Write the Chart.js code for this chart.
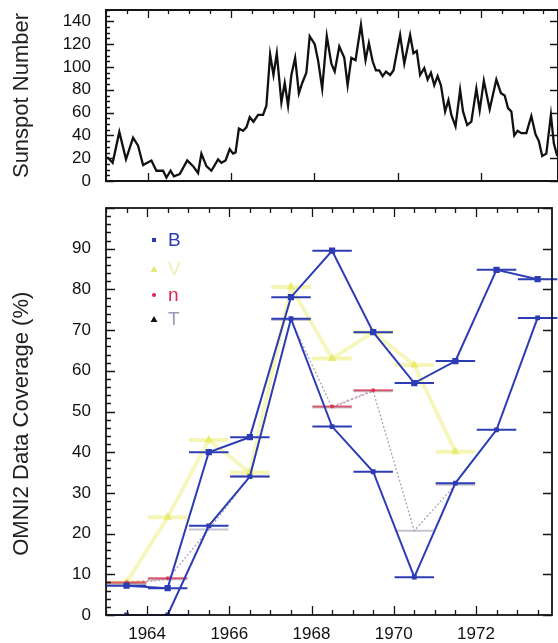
<!DOCTYPE html>
<html lang="en">
<head>
<meta charset="UTF-8" />
<title>Sunspot Number and OMNI2 Data Coverage</title>
<script src="https://cdn.jsdelivr.net/npm/chart.js"></script>
<style>
  html, body { margin: 0; padding: 0; background: #fff; overflow: hidden; }
  #wrap { position: relative; width: 558px; height: 643px; }
  canvas { position: absolute; left: 0; }
  #sunspotChart { top: 0; }
  #coverageChart { top: 200px; }
</style>
</head>
<body>
<div id="wrap">
  <canvas id="sunspotChart" width="558" height="200"></canvas>
  <canvas id="coverageChart" width="558" height="443"></canvas>
</div>
<script>
// ---- top panel: sunspot number ----
const sunspotYears = [
  1963.03, 1963.16, 1963.32, 1963.48, 1963.65, 1963.77, 1963.89, 1964.09, 1964.21, 1964.37, 1964.45, 1964.55,
  1964.63, 1964.77, 1964.95, 1965.09, 1965.21, 1965.29, 1965.41, 1965.53, 1965.69, 1965.77, 1965.87, 1965.97,
  1966.05, 1966.11, 1966.19, 1966.29, 1966.37, 1966.45, 1966.54, 1966.65, 1966.77, 1966.85, 1966.94, 1967.02,
  1967.10, 1967.21, 1967.29, 1967.37, 1967.45, 1967.54, 1967.63, 1967.71, 1967.81, 1967.89, 1968.01, 1968.09,
  1968.19, 1968.30, 1968.41, 1968.49, 1968.60, 1968.72, 1968.80, 1968.89, 1968.99, 1969.12, 1969.23, 1969.31,
  1969.40, 1969.48, 1969.56, 1969.64, 1969.72, 1969.82, 1969.90, 1970.06, 1970.16, 1970.30, 1970.38, 1970.46,
  1970.54, 1970.64, 1970.72, 1970.80, 1970.88, 1970.96, 1971.04, 1971.14, 1971.22, 1971.29, 1971.39, 1971.50,
  1971.57, 1971.67, 1971.77, 1971.89, 1971.97, 1972.07, 1972.21, 1972.37, 1972.48, 1972.57, 1972.65, 1972.73,
  1972.80, 1972.88, 1972.97, 1973.09, 1973.21, 1973.31, 1973.39, 1973.47, 1973.57, 1973.68, 1973.75, 1973.83
];
const sunspotValues = [
  21, 16, 43, 19, 38, 31, 14, 18, 9, 9, 3, 9,
  4, 6, 18, 13, 7, 24, 13, 9, 19, 16, 18, 28,
  24, 25, 46, 44, 47, 56, 52, 58, 58, 66, 111, 93,
  112, 69, 86, 66, 93, 108, 77, 86, 95, 127, 120, 106,
  81, 127, 103, 96, 118, 108, 84, 108, 106, 137, 106, 121,
  105, 97, 97, 92, 96, 93, 97, 128, 103, 128, 112, 114,
  93, 99, 89, 95, 84, 92, 84, 61, 71, 58, 48, 80,
  61, 49, 52, 81, 62, 88, 63, 89, 77, 75, 64, 61,
  40, 44, 42, 42, 57, 41, 35, 22, 24, 58, 33, 22
];

// ---- bottom panel: OMNI2 yearly data coverage (%) ----
const coverageYears = [1963.5, 1964.5, 1965.5, 1966.5, 1967.5, 1968.5, 1969.5, 1970.5, 1971.5, 1972.5, 1973.5];
const coverageB     = [7.2, 6.6, 40.0, 43.7, 78.1, 89.5, 69.5, 57.0, 62.4, 84.8, 82.5];
const coverageB2    = [0, 0, 21.9, 34.0, 72.8, 46.3, 35.2, 9.3, 32.4, 45.5, 73.0];
const coverageV     = [8, 24, 43, 35, 80.6, 63, 69.5, 61.4, 40.1, null, null];
const coverageN     = [8.0, 9.0, null, null, null, 51.2, 55.2, null, null, null, null];
const coverageT     = [7.6, 8.8, 21, 34, 72.5, 51.0, 55.0, 20.7, 32.0, null, null];

const yearLabels = [1964, 1966, 1968, 1970, 1972];
const sunspotTicks = [0, 20, 40, 60, 80, 100, 120, 140];
const coverageTicks = [0, 10, 20, 30, 40, 50, 60, 70, 80, 90];

const X_MIN = 1963, X_MAX = 1973.85;
const barHalf = 0.48;
const FONT = '"Liberation Sans", Arial, Helvetica, sans-serif';
const BLUE = '#2c3cb4';

// inward tick marks and the box round the plot
const frameTicks = {
  id: 'frameTicks',
  afterDraw(chart, args, o) {
    const { ctx, chartArea: a, scales: { x, y } } = chart;
    ctx.save();
    ctx.strokeStyle = '#151515';
    ctx.lineWidth = o.lineWidth;
    ctx.strokeRect(a.left, a.top, a.right - a.left, a.bottom - a.top);
    ctx.lineWidth = 1.3;
    ctx.beginPath();
    // y ticks
    for (let v = y.min; v <= y.max + 1e-6; v += o.yMinor) {
      const py = Math.round(y.getPixelForValue(v)) + 0.5;
      const major = Math.abs(v / o.yMajor - Math.round(v / o.yMajor)) < 1e-6;
      const len = major ? o.majorLen : o.minorLen;
      ctx.moveTo(a.left, py); ctx.lineTo(a.left + len, py);
      if (major) { ctx.moveTo(a.right, py); ctx.lineTo(a.right - len, py); }
    }
    // x ticks
    for (let v = 1963; v <= X_MAX + 1e-6; v += 0.5) {
      const px = Math.round(x.getPixelForValue(v)) + 0.5;
      const major = v % 2 === 0;
      const len = major ? o.majorLen : o.minorLen;
      if (major || o.topMinor) { ctx.moveTo(px, a.top); ctx.lineTo(px, a.top + len); }
      if (major || o.bottomMinor) { ctx.moveTo(px, a.bottom); ctx.lineTo(px, a.bottom - len); }
    }
    ctx.stroke();
    ctx.restore();
  }
};

// horizontal bars spanning each yearly bin
const yearBars = {
  id: 'yearBars',
  afterDatasetDraw(chart, args) {
    const ds = chart.data.datasets[args.index];
    if (!ds.barColor) return;
    const { ctx, scales: { x, y } } = chart;
    ctx.save();
    ctx.strokeStyle = ds.barColor;
    ctx.lineWidth = ds.barWidth || 2;
    ds.data.forEach(p => {
      if (p.y == null) return;
      const py = y.getPixelForValue(p.y);
      ctx.beginPath();
      ctx.moveTo(x.getPixelForValue(p.x - barHalf), py);
      ctx.lineTo(x.getPixelForValue(p.x + barHalf), py);
      ctx.stroke();
    });
    ctx.restore();
  }
};

// legend drawn inside the plot, top left
const insideLegend = {
  id: 'insideLegend',
  afterDraw(chart) {
    const { ctx, chartArea: a } = chart;
    const mx = a.left + 48, tx = a.left + 62;
    const rows = [
      { dy: 32, text: 'B', color: BLUE, mark: 'rect', markColor: BLUE },
      { dy: 61, text: 'V', color: 'rgba(225,228,120,0.55)', mark: 'tri', markColor: 'rgba(220,228,80,0.8)' },
      { dy: 87, text: 'n', color: '#e0224e', mark: 'dot', markColor: '#e0224e' },
      { dy: 111, text: 'T', color: 'rgba(120,120,160,0.75)', mark: 'tri', markColor: '#111' }
    ];
    ctx.save();
    ctx.font = '19px ' + FONT;
    ctx.textBaseline = 'middle';
    rows.forEach(r => {
      const y0 = a.top + r.dy;
      ctx.fillStyle = r.markColor;
      if (r.mark === 'rect') ctx.fillRect(mx - 2, y0 - 2, 4, 4);
      else if (r.mark === 'dot') { ctx.beginPath(); ctx.arc(mx, y0, 2, 0, Math.PI * 2); ctx.fill(); }
      else { ctx.beginPath(); ctx.moveTo(mx, y0 - 3); ctx.lineTo(mx + 3.5, y0 + 3); ctx.lineTo(mx - 3.5, y0 + 3); ctx.closePath(); ctx.fill(); }
      ctx.fillStyle = r.color;
      ctx.fillText(r.text, tx, y0 + 1);
    });
    ctx.restore();
  }
};

const noPad = s => { s.paddingTop = 0; s.paddingBottom = 0; s.paddingLeft = 0; s.paddingRight = 0; };

function xScale(showLabels, height) {
  return {
    type: 'linear', min: X_MIN, max: X_MAX,
    afterBuildTicks: s => { s.ticks = yearLabels.map(v => ({ value: v })); },
    afterFit: s => { s.height = height; noPad(s); },
    grid: { display: false, drawTicks: false },
    border: { display: false },
    ticks: { display: showLabels, padding: 9, color: '#111', font: { family: FONT, size: 17 }, maxRotation: 0,
      callback: v => String(v) }
  };
}

function yScale(max, tickList, title) {
  return {
    min: 0, max: max,
    afterBuildTicks: s => { s.ticks = tickList.map(v => ({ value: v })); },
    afterFit: s => { s.width = 106; noPad(s); },
    grid: { display: false, drawTicks: false },
    border: { display: false },
    ticks: { padding: 15, color: '#111', font: { family: FONT, size: 17 } },
    title: { display: true, text: title, color: '#222', font: { family: FONT, size: 22 }, padding: { top: 9, bottom: 0 } }
  };
}

const commonOpts = {
  responsive: false,
  animation: false,
  plugins: { legend: { display: false }, tooltip: { enabled: false } }
};

new Chart(document.getElementById('sunspotChart'), {
  type: 'line',
  data: {
    datasets: [{
      data: sunspotYears.map((x, i) => ({ x, y: sunspotValues[i] })),
      borderColor: '#111', borderWidth: 2.3, pointRadius: 0, tension: 0
    }]
  },
  options: {
    ...commonOpts,
    layout: { padding: { top: 10, left: 0, right: 0, bottom: 0 } },
    scales: { x: xScale(false, 19), y: yScale(150, sunspotTicks, 'Sunspot Number') },
    plugins: { ...commonOpts.plugins,
      frameTicks: { lineWidth: 2, yMajor: 20, yMinor: 5, majorLen: 8, minorLen: 4, topMinor: true, bottomMinor: false } }
  },
  plugins: [frameTicks]
});

const toPts = vals => coverageYears.map((x, i) => ({ x, y: vals[i] }));

// the printed title sits a little below the middle of the axis
const coverageAxis = yScale(100, coverageTicks, 'OMNI2 Data Coverage (%)    ');

new Chart(document.getElementById('coverageChart'), {
  type: 'line',
  data: {
    datasets: [
      { label: 'B', data: toPts(coverageB), borderColor: BLUE, borderWidth: 2, tension: 0,
        pointStyle: 'rect', pointRadius: 3, pointBackgroundColor: BLUE, pointBorderColor: BLUE,
        barColor: BLUE, barWidth: 2 },
      { label: 'B2', data: toPts(coverageB2), borderColor: BLUE, borderWidth: 2, tension: 0,
        pointStyle: 'rect', pointRadius: 2, pointBackgroundColor: BLUE, pointBorderColor: BLUE,
        barColor: BLUE, barWidth: 2 },
      { label: 'n', data: toPts(coverageN), borderColor: 'rgba(215,110,140,0.5)', borderWidth: 1.5,
        borderDash: [3, 2], tension: 0, pointRadius: 2, pointBackgroundColor: 'rgba(220,40,70,0.8)',
        pointBorderWidth: 0, barColor: 'rgba(215,45,70,0.75)', barWidth: 2 },
      { label: 'T', data: toPts(coverageT), borderColor: 'rgba(110,100,140,0.6)', borderWidth: 1.3,
        borderDash: [2, 2], tension: 0, pointRadius: 0, barColor: 'rgba(150,150,175,0.55)', barWidth: 2 },
      { label: 'V', data: toPts(coverageV), borderColor: 'rgba(236,238,110,0.45)', borderWidth: 4, tension: 0,
        pointStyle: 'triangle', pointRadius: 5, pointBackgroundColor: 'rgba(222,230,70,0.7)', pointBorderWidth: 0,
        barColor: 'rgba(236,238,110,0.5)', barWidth: 4 }
    ]
  },
  options: {
    ...commonOpts,
    layout: { padding: { top: 8, left: 0, right: 0, bottom: 0 } },
    scales: { x: xScale(true, 28), y: coverageAxis },
    plugins: { ...commonOpts.plugins,
      frameTicks: { lineWidth: 1.8, yMajor: 10, yMinor: 2, majorLen: 9, minorLen: 5, topMinor: true, bottomMinor: true } }
  },
  plugins: [yearBars, frameTicks, insideLegend]
});
</script>
</body>
</html>
